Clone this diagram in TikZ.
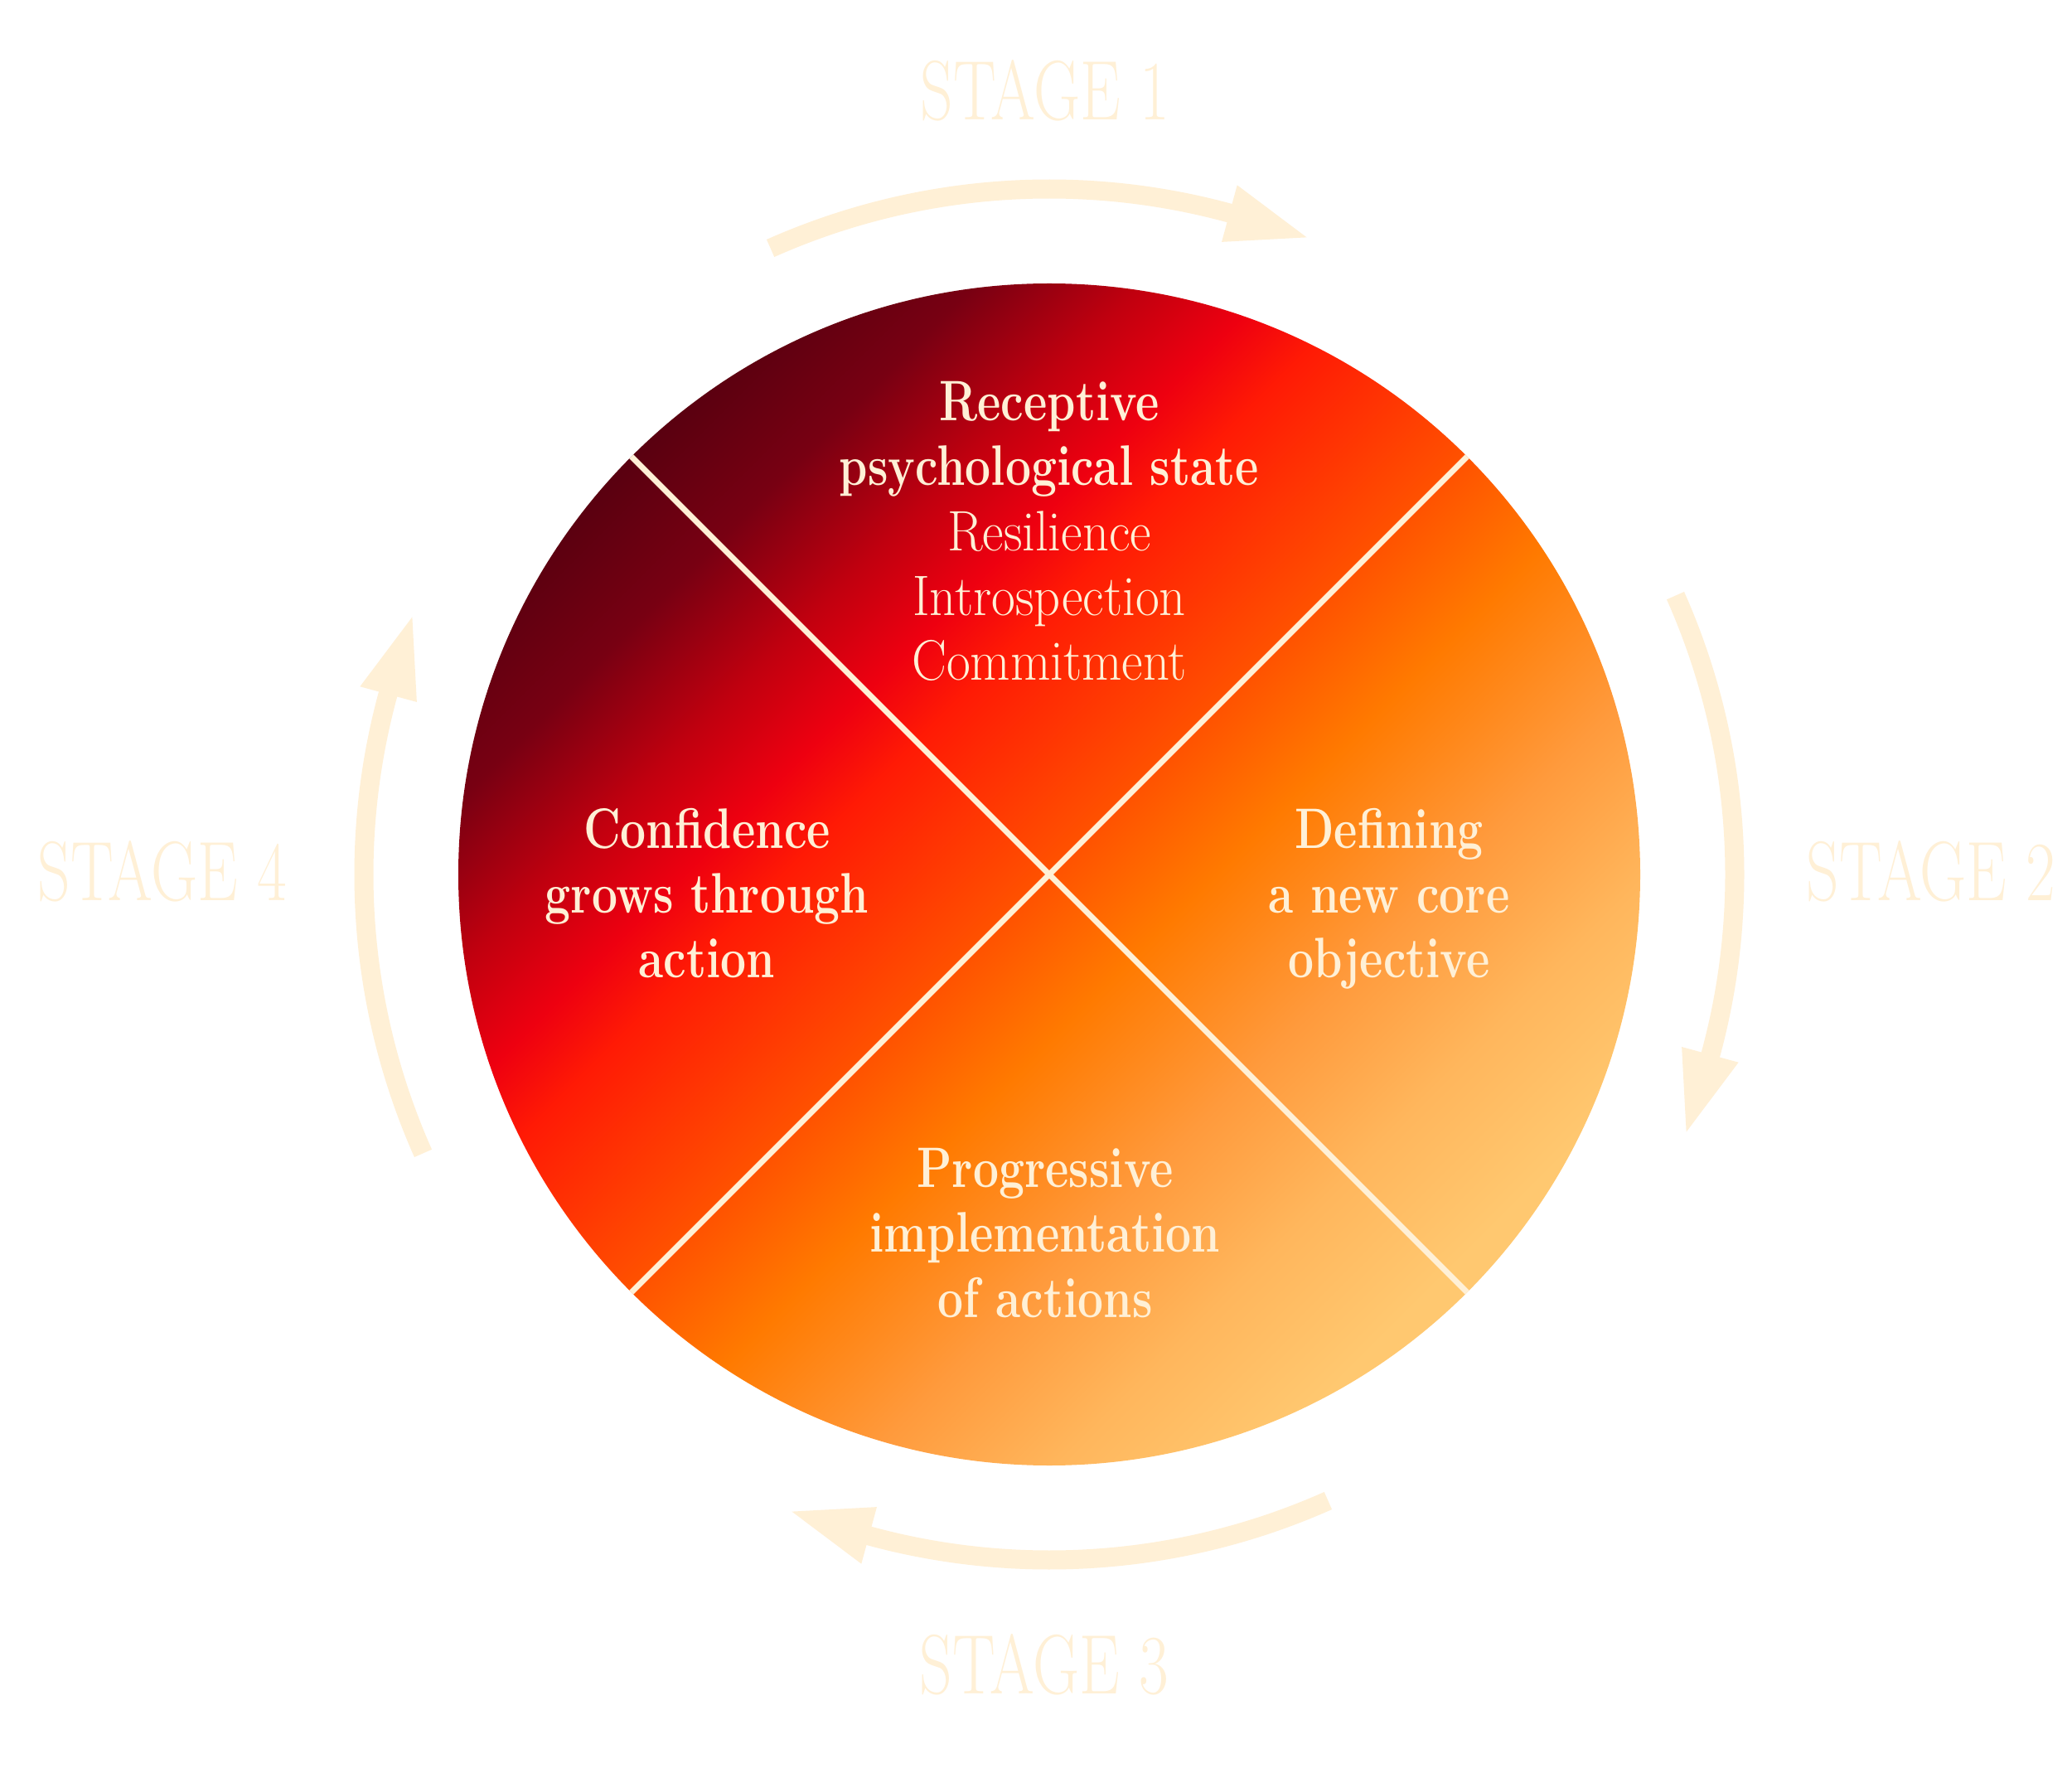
\documentclass[tikz,border=0pt]{standalone}
\usepackage{fontspec}
\usetikzlibrary{calc}
\newfontfamily\boldf{lmroman12-bold.otf}[FakeStretch=0.8]
\newfontfamily\lightf{lmroman17-regular.otf}[FakeStretch=0.91]
\newfontfamily\stagef{lmroman17-regular.otf}[FakeStretch=0.76]
\definecolor{cream}{HTML}{FFF0D6}
\definecolor{g0}{HTML}{5A0010}
\definecolor{g1}{HTML}{780012}
\definecolor{g2}{HTML}{C0000F}
\definecolor{g3}{HTML}{EE0010}
\definecolor{g4}{HTML}{FF1A05}
\definecolor{g5}{HTML}{FF5200}
\definecolor{g6}{HTML}{FF7A00}
\definecolor{g7}{HTML}{FF9A3C}
\definecolor{g8}{HTML}{FFB65C}
\definecolor{g9}{HTML}{FFC870}
\pgfdeclarehorizontalshading{wheelgrad}{100bp}{color(0bp)=(g0); color(25bp)=(g0); color(30bp)=(g1); color(35bp)=(g2); color(39bp)=(g3); color(42bp)=(g4); color(50bp)=(g5); color(55bp)=(g6); color(62bp)=(g7); color(68bp)=(g8); color(74bp)=(g9); color(100bp)=(g9)}
\tikzset{
  sep/.style={draw=cream, line width=0.07cm},
  band/.style={draw=cream, line width=0.23cm},
  headfill/.style={fill=cream, draw=none},
  stagelabel/.style={text=cream, inner sep=0pt, anchor=base, font=\stagef\fontsize{29}{34}\selectfont},
  boldtxt/.style={text=cream, inner sep=0pt, anchor=north, align=center, font=\fontsize{19.6}{22.2}\selectfont},
}
\begin{document}
\begin{tikzpicture}
\fill[white] (0,0) rectangle (25,21.32);
\useasboundingbox (0,0) rectangle (25,21.32);
\coordinate (C) at (12.66,10.77);
\node[circle, minimum size=14.26cm, inner sep=0pt, outer sep=0pt, shading=wheelgrad, shading angle=-45] (wheel) at (C) {};
\draw[sep] (wheel.45) -- (wheel.225);
\draw[sep] (wheel.135) -- (wheel.315);
\foreach \a in {90,0,-90,180} {
  \draw[band] ($(C)+(\a+24:8.27)$) arc[start angle=\a+24, end angle=\a-16, radius=8.27];
  \fill[headfill] ($(C)+(\a-15.25:8.62)$) -- ($(C)+(\a-22:8.29)$) -- ($(C)+(\a-15.25:7.91)$) -- cycle;
}
\node[stagelabel] (s1) at (12.61,19.87) {STAGE 1};
\node[stagelabel] (s2) at (23.30,10.46) {STAGE 2};
\node[stagelabel] (s3) at (12.60,0.89) {STAGE 3};
\node[stagelabel] (s4) at (1.96,10.46) {STAGE 4};
\node[boldtxt] (q1) at (12.66,16.72) {\boldf Receptive\\\boldf psychological state\\\lightf Resilience\\\lightf Introspection\\\lightf Commitment};
\node[boldtxt] (q2) at (16.76,11.57) {\boldf Defining\\\boldf a new core\\\boldf objective};
\node[boldtxt] (q3) at (12.61,7.47) {\boldf Progressive\\\boldf implementation\\\boldf of actions};
\node[boldtxt] (q4) at (8.53,11.57) {\boldf Confidence\\\boldf grows through\\\boldf action};
\end{tikzpicture}
\end{document}
